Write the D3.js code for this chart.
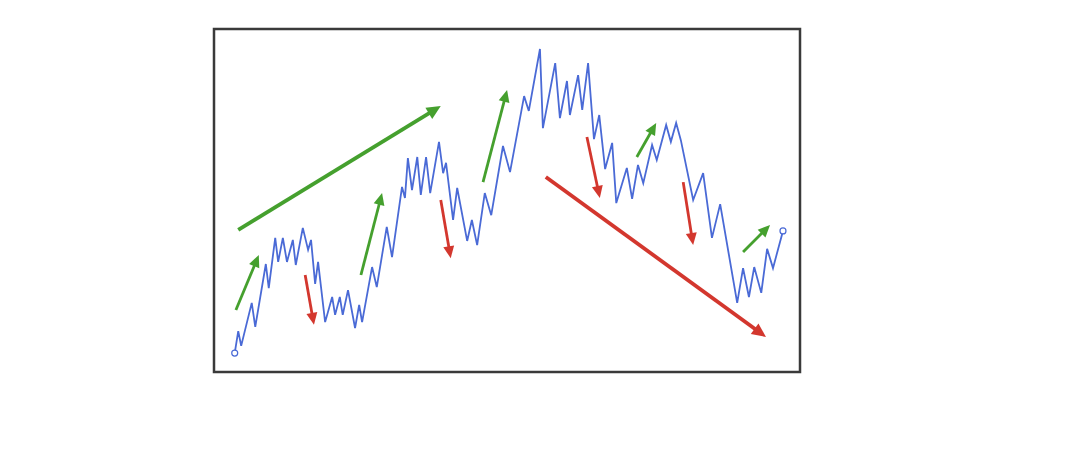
<!DOCTYPE html>
<html lang="en">
<head>
<meta charset="UTF-8">
<title>Trend zigzag</title>
<script src="https://d3js.org/d3.v7.min.js"></script>
<style>
  body { margin: 0; background: #fff; }
</style>
</head>
<body>
<div id="chart"></div>
<script>
// price path: time (0-100) and price (0-100)
var times = [3.7, 4.3, 4.8, 6.6, 7.2, 9.0, 9.5, 10.6, 11.1, 11.9, 12.6, 13.6, 14.1, 15.3, 16.2, 16.7, 17.4, 17.9,
  19.1, 20.3, 20.8, 21.6, 22.1, 23.0, 24.2, 24.9, 25.4, 27.1, 27.9, 29.6, 30.5, 32.2, 32.7, 33.2, 33.9, 34.8,
  35.4, 36.3, 37.0, 38.5, 39.2, 39.7, 40.9, 41.6, 43.3, 44.1, 45.0, 46.3, 47.4, 49.4, 50.6, 53.0, 53.8, 55.7,
  56.2, 58.3, 59.1, 60.3, 60.8, 62.2, 62.9, 63.9, 64.9, 65.8, 66.8, 68.0, 68.7, 70.5, 71.4, 72.4, 73.3, 74.8,
  75.6, 77.2, 78.0, 78.9, 79.7, 81.8, 83.5, 85.0, 86.4, 89.3, 90.3, 91.3, 92.2, 93.4, 94.4, 95.4, 97.1];
var prices = [5.5, 11.9, 7.6, 20.1, 13.1, 31.4, 24.4, 39.0, 32.0, 39.0, 32.0, 38.4, 31.1, 41.9, 35.5, 38.4, 25.6, 32.0,
  14.5, 21.8, 16.6, 21.8, 16.6, 23.8, 12.8, 19.5, 14.5, 30.5, 24.7, 42.2, 33.4, 53.8, 50.6, 62.2, 52.9, 62.5,
  51.5, 62.5, 52.0, 66.9, 57.8, 60.8, 44.2, 53.5, 38.1, 44.2, 36.9, 52.0, 45.6, 65.7, 58.1, 80.2, 75.9, 93.9,
  70.9, 89.8, 73.8, 84.6, 74.7, 86.3, 76.2, 89.8, 67.7, 74.7, 59.0, 66.6, 49.1, 59.3, 50.3, 60.2, 54.9, 66.0,
  61.6, 71.8, 66.9, 72.4, 67.4, 50.0, 57.8, 39.0, 48.8, 20.1, 30.2, 21.8, 30.5, 23.0, 35.8, 30.2, 41.0];

// trend arrows: [t0, p0, t1, p1]
var upTrends = [
  [4.3, 41.3, 38.8, 77.3],
  [3.9, 18.0, 7.8, 34.0],
  [25.2, 28.2, 28.8, 52.0],
  [46.0, 55.2, 50.1, 82.0],
  [72.2, 62.5, 75.5, 72.4],
  [90.3, 34.9, 94.9, 42.7]
];
var downTrends = [
  [56.7, 56.7, 94.2, 10.2],
  [15.7, 28.2, 17.2, 13.7],
  [38.8, 50.0, 40.5, 33.1],
  [63.7, 68.3, 65.9, 50.6],
  [80.1, 55.2, 81.8, 36.9]
];
var bigTrends = [[4.3, 41.3, 38.8, 77.3], [56.7, 56.7, 94.2, 10.2]];

var width = 1080, height = 473;
var frame = {left: 214, top: 29, right: 800, bottom: 372};

var x = d3.scaleLinear().domain([0, 100]).range([213, 800]);
var y = d3.scaleLinear().domain([0, 100]).range([372, 28]);

var svg = d3.select("#chart").append("svg")
    .attr("width", width)
    .attr("height", height);

svg.append("rect")
    .attr("x", frame.left)
    .attr("y", frame.top)
    .attr("width", frame.right - frame.left)
    .attr("height", frame.bottom - frame.top)
    .attr("fill", "#fff")
    .attr("stroke", "#3a3a3a")
    .attr("stroke-width", 2.5);

var pts = times.map(function(t, i) { return [t, prices[i]]; });

var line = d3.line()
    .x(function(d) { return x(d[0]); })
    .y(function(d) { return y(d[1]); });

svg.append("path")
    .datum(pts)
    .attr("fill", "none")
    .attr("stroke", "#4a6ad6")
    .attr("stroke-width", 1.8)
    .attr("stroke-linejoin", "miter")
    .attr("d", line);

svg.selectAll(".end")
    .data([pts[0], pts[pts.length - 1]])
  .enter().append("circle")
    .attr("class", "end")
    .attr("cx", function(d) { return x(d[0]); })
    .attr("cy", function(d) { return y(d[1]); })
    .attr("r", 3)
    .attr("fill", "#fff")
    .attr("stroke", "#4a6ad6")
    .attr("stroke-width", 1.2);

function drawArrow(d, color) {
  var big = bigTrends.some(function(b) { return b[0] === d[0] && b[1] === d[1]; });
  var x0 = x(d[0]), y0 = y(d[1]), x1 = x(d[2]), y1 = y(d[3]);
  var dx = x1 - x0, dy = y1 - y0, len = Math.sqrt(dx * dx + dy * dy);
  var ux = dx / len, uy = dy / len;
  var headL = big ? 14 : 12, headW = big ? 6.5 : 5.5;
  var bx = x1 - ux * headL, by = y1 - uy * headL;
  svg.append("line")
      .attr("x1", x0).attr("y1", y0)
      .attr("x2", bx + ux * 1).attr("y2", by + uy * 1)
      .attr("stroke", color)
      .attr("stroke-width", big ? 3.8 : 2.8);
  svg.append("polygon")
      .attr("points", [[x1, y1], [bx - uy * headW, by + ux * headW], [bx + uy * headW, by - ux * headW]]
        .map(function(p) { return p.join(","); }).join(" "))
      .attr("fill", color);
}

upTrends.forEach(function(d) { drawArrow(d, "#45a02e"); });
downTrends.forEach(function(d) { drawArrow(d, "#d3372e"); });
</script>
</body>
</html>
